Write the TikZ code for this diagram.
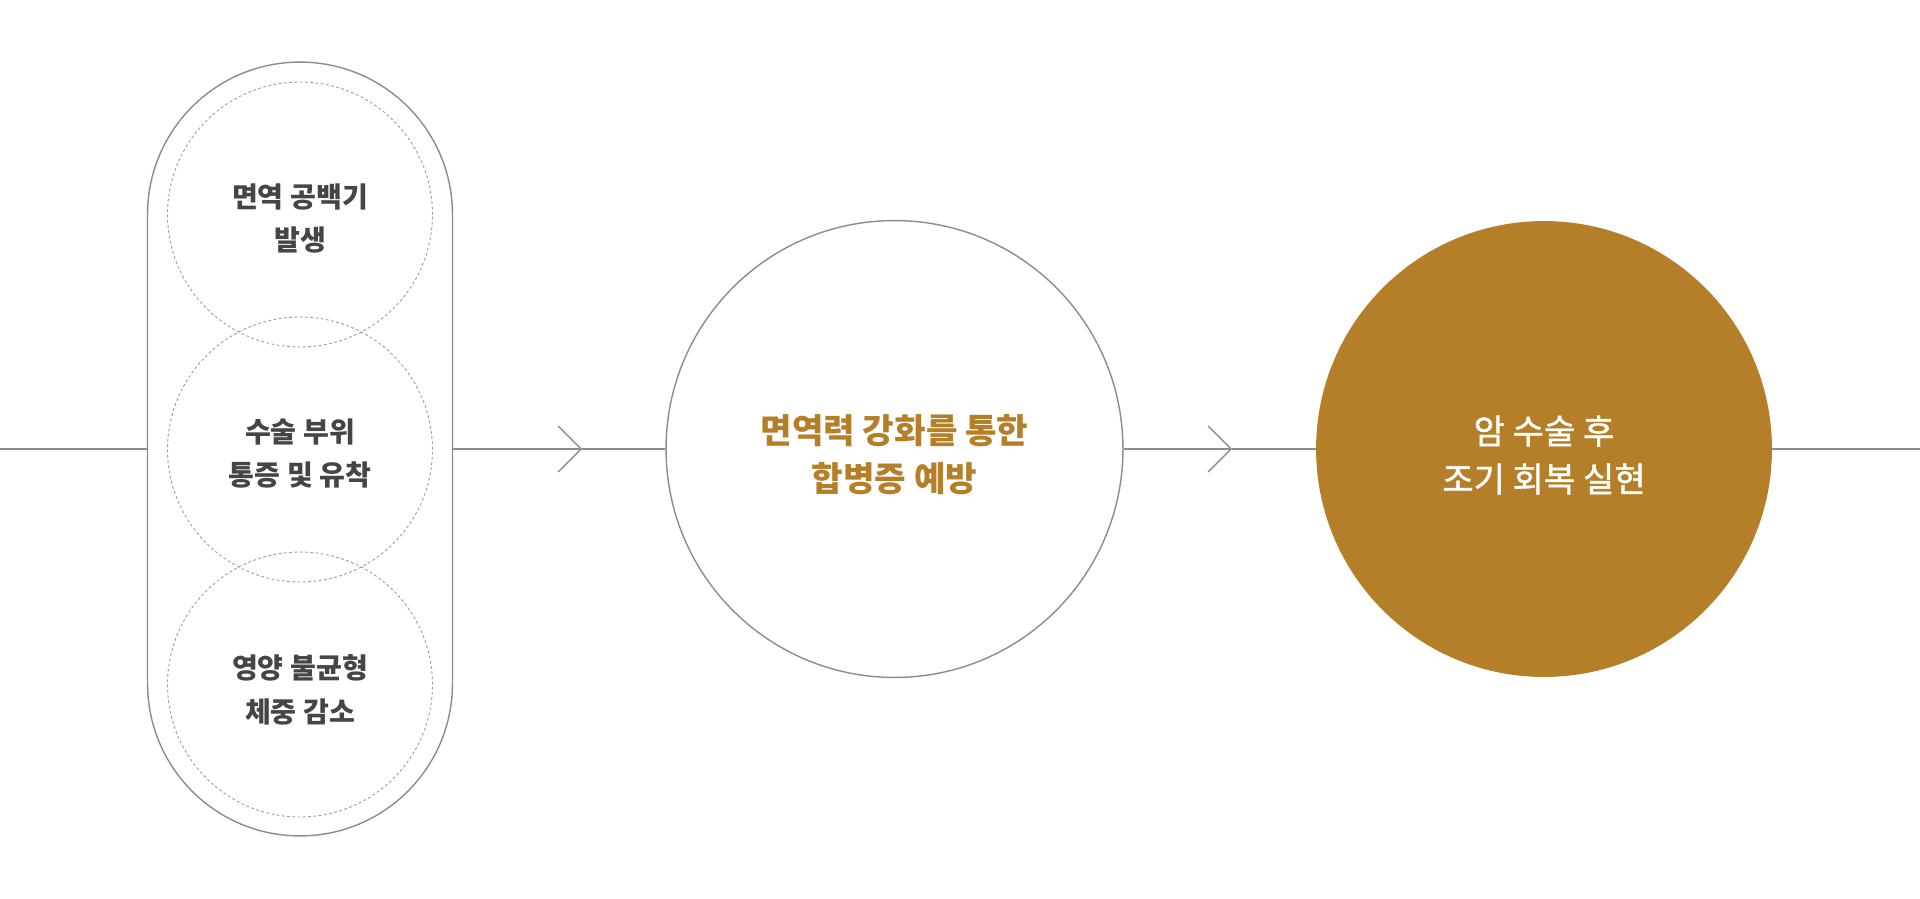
\documentclass[tikz,border=0pt]{standalone}
\usepackage{fontspec}
\setmainfont{Noto Sans CJK KR}
\newfontfamily\goalfont[FakeBold=1.2]{Noto Sans CJK KR}
\usepackage{tikz}
\usetikzlibrary{arrows.meta, positioning, calc}
\definecolor{GoldBrown}{HTML}{B57F2A}
\definecolor{LineGray}{HTML}{8C8C8C}
\definecolor{DashGray}{HTML}{9A9A9A}
\definecolor{TextGray}{HTML}{454545}
\tikzset{
  pillbox/.style={rectangle, rounded corners=3.05cm, draw=LineGray, line width=0.8pt, minimum width=6.1cm, minimum height=15.48cm, inner sep=0pt},
  riskring/.style={circle, draw=DashGray, line width=0.5pt, dash pattern=on 1.6pt off 1.4pt, minimum size=5.3cm, inner sep=0pt},
  risktext/.style={font=\bfseries\fontsize{16}{25}\selectfont, text=TextGray, align=center, inner sep=0pt},
  midcircle/.style={circle, draw=LineGray, line width=0.8pt, minimum size=9.14cm, inner sep=0pt},
  midtext/.style={font=\bfseries\fontsize{19.5}{27.3}\selectfont, text=GoldBrown, align=center, inner sep=0pt},
  goalcircle/.style={circle, fill=GoldBrown, minimum size=9.12cm, inner sep=0pt},
  goaltext/.style={font=\goalfont\fontsize{19.4}{27.3}\selectfont, text=white, align=center, inner sep=0pt},
  flowline/.style={draw=LineGray, line width=0.8pt},
  flowarrow/.style={flowline, -{Straight Barb[length=0.46cm, width=0.92cm, line width=0.8pt]}}
}
\begin{document}
\begin{tikzpicture}[x=0.02cm, y=-0.02cm]
  \useasboundingbox (0,0) rectangle (1920,899);

  % Risk column
  \node[pillbox] (risks) at (300,449) {};
  \node[riskring] (gap) at (300,214.5) {};
  \node[riskring] (pain) at (300,449.5) {};
  \node[riskring] (weight) at (300,684.5) {};
  \node[risktext] (gaptext) at ($(gap)+(0,4)$) {면역 공백기\\발생};
  \node[risktext] (paintext) at ($(pain)+(0,4)$) {수술 부위\\통증 및 유착};
  \node[risktext] (weighttext) at ($(weight)+(0,5)$) {영양 불균형\\체중 감소};

  % Prevention and goal
  \node[midcircle] (prevent) at (894.5,449) {};
  \node[midtext] (preventtext) at ($(prevent)+(0,6)$) {면역력 강화를 통한\\합병증 예방};
  \node[goalcircle] (goal) at (1544,449) {};
  \node[goaltext] (goaltext) at ($(goal)+(0,6)$) {암 수술 후\\조기 회복 실현};

  % Flow line
  \coordinate (start) at (0,449);
  \coordinate (finish) at (1920,449);
  \coordinate (tipA) at (582,449);
  \coordinate (tipB) at (1232,449);
  \draw[flowline] (start) -- (risks.west);
  \draw[flowarrow] (risks.east) -- (tipA);
  \draw[flowline] (tipA) -- (prevent.west);
  \draw[flowarrow] (prevent.east) -- (tipB);
  \draw[flowline] (tipB) -- (goal.west);
  \draw[flowline] (goal.east) -- (finish);
\end{tikzpicture}
\end{document}
